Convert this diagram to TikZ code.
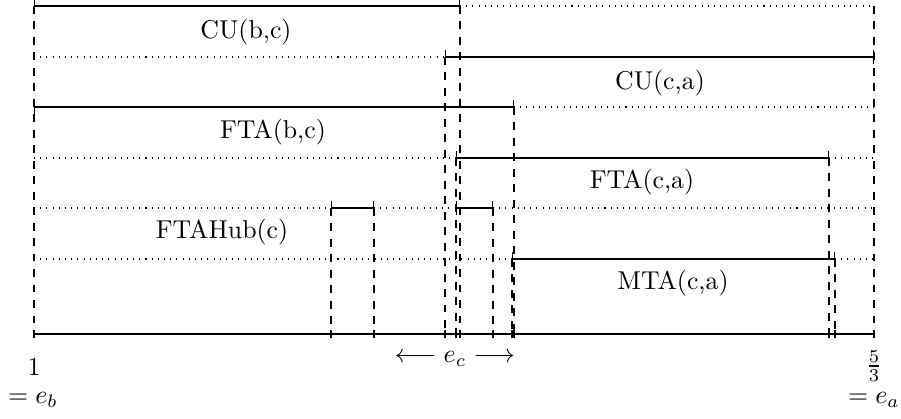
\documentclass[tikz,border=0pt]{standalone}
\usetikzlibrary{arrows,positioning}
\begin{document}
\begin{tikzpicture}[x=0.3875pt,y=-0.3875pt,
  used/.style={|-|},
  free/.style={dotted},
  guide/.style={dashed}]
  \useasboundingbox (0,0) rectangle (901,418);

  % points on the axis
  \coordinate (eb)        at (34,334);
  \coordinate (hubL)      at (331,334);
  \coordinate (hubR)      at (374,334);
  \coordinate (cucaStart) at (445,334);
  \coordinate (ftacaStart) at (456,334);
  \coordinate (cubcEnd)   at (460,334);
  \coordinate (hubEnd)    at (493,334);
  \coordinate (mtaStart)  at (512,334);
  \coordinate (ftabcEnd)  at (514,334);
  \coordinate (ftacaEnd)  at (829,334);
  \coordinate (mtaEnd)    at (835,334);
  \coordinate (ea)        at (874,334);

  % rows
  \coordinate (cubc)  at (34,6);
  \coordinate (cuca)  at (34,57);
  \coordinate (ftabc) at (34,107);
  \coordinate (ftaca) at (34,158);
  \coordinate (hub)   at (34,208);
  \coordinate (mta)   at (34,259);

  % guides
  \draw[guide] (cubc) -- (eb);
  \draw[guide] (cubc -| ea) -- (ea);
  \draw[guide] (cubc -| cubcEnd) -- (cubcEnd);
  \draw[guide] (cuca -| cucaStart) -- (cucaStart);
  \draw[guide] (ftabc -| ftabcEnd) -- (ftabcEnd);
  \draw[guide] (ftaca -| ftacaStart) -- (ftacaStart);
  \draw[guide] (ftaca -| ftacaEnd) -- (ftacaEnd);
  \draw[guide] (hub -| hubL) -- (hubL);
  \draw[guide] (hub -| hubR) -- (hubR);
  \draw[guide] (hub -| hubEnd) -- (hubEnd);
  \draw[guide] (mta -| mtaStart) -- (mtaStart);
  \draw[guide] (mta -| mtaEnd) -- (mtaEnd);

  % CU(b,c)
  \draw[used] (cubc) -- (cubc -| cubcEnd);
  \draw[free] (cubc -| cubcEnd) -- (cubc -| ea);
  % CU(c,a)
  \draw[free] (cuca) -- (cuca -| cucaStart);
  \draw[used] (cuca -| cucaStart) -- (cuca -| ea);
  % FTA(b,c)
  \draw[used] (ftabc) -- (ftabc -| ftabcEnd);
  \draw[free] (ftabc -| ftabcEnd) -- (ftabc -| ea);
  % FTA(c,a)
  \draw[free] (ftaca) -- (ftaca -| ftacaStart);
  \draw[used] (ftaca -| ftacaStart) -- (ftaca -| ftacaEnd);
  \draw[free] (ftaca -| ftacaEnd) -- (ftaca -| ea);
  % FTAHub(c)
  \draw[free] (hub) -- (hub -| hubL);
  \draw[used] (hub -| hubL) -- (hub -| hubR);
  \draw[free] (hub -| hubR) -- (hub -| ftacaStart);
  \draw[used] (hub -| ftacaStart) -- (hub -| hubEnd);
  \draw[free] (hub -| hubEnd) -- (hub -| ea);
  % MTA(c,a)
  \draw[free] (mta) -- (mta -| mtaStart);
  \draw[used] (mta -| mtaStart) -- (mta -| mtaEnd);
  \draw[free] (mta -| mtaEnd) -- (mta -| ea);

  % axis
  \draw[thick] (eb) -- (ea);
  \foreach \p in {eb,hubL,hubR,cucaStart,ftacaStart,cubcEnd,hubEnd,mtaStart,ftabcEnd,ftacaEnd,mtaEnd,ea}
    \draw (\p) ++(0,-4) -- ++(0,8);

  \node (lcubc)  at (246,32)  {CU(b,c)};
  \node (lcuca)  at (660,83)  {CU(c,a)};
  \node (lftabc) at (273,132) {FTA(b,c)};
  \node (lftaca) at (642,182) {FTA(c,a)};
  \node (lhub)   at (222,232) {FTAHub(c)};
  \node (lmta)   at (673,283) {MTA(c,a)};

  \node (one)   at (34,367)  {$1$};
  \node (isEb)  at (33,400)  {$=e_b$};
  \node (five)  at (874,366) {$\frac{5}{3}$};
  \node (isEa)  at (874,400) {$=e_a$};
  \node (ec)    at (455,359) {$\longleftarrow e_c \longrightarrow$};
\end{tikzpicture}
\end{document}
